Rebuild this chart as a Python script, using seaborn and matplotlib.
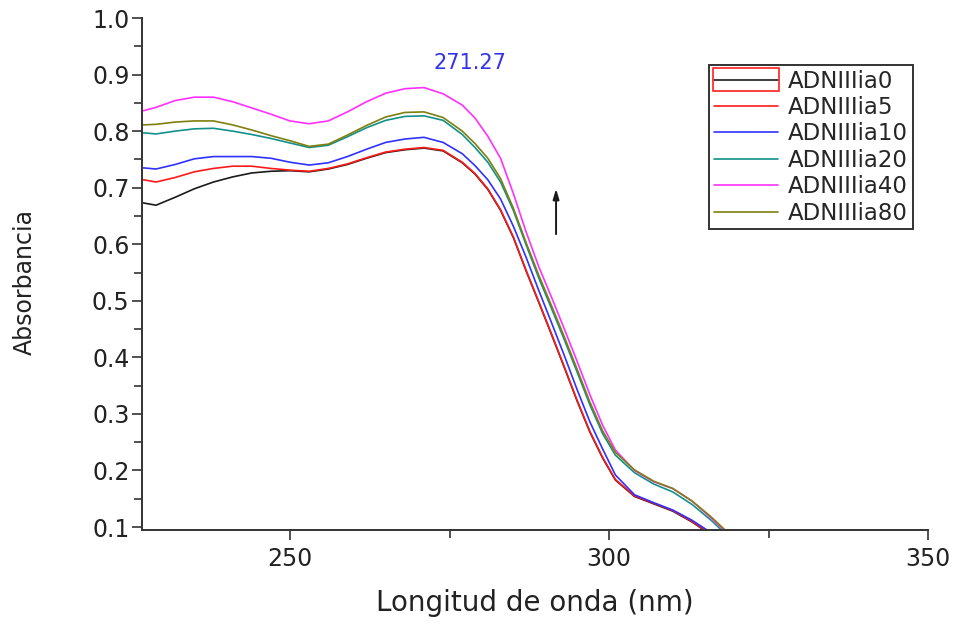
import numpy as np
import pandas as pd
import matplotlib
matplotlib.use("Agg")
import matplotlib.pyplot as plt
import matplotlib.patches as mpatches
from matplotlib.ticker import MultipleLocator, FormatStrFormatter
import seaborn as sns

# ---------------- data ----------------
wavelength = [227, 229, 232, 235, 238, 241, 244, 247, 250, 253, 256, 259, 262, 265,
              268, 271, 274, 277, 279, 281, 283, 285, 287, 289, 291, 293, 295, 297,
              299, 301, 304, 307, 310, 313, 316, 319]

adn0 = [0.673, 0.669, 0.683, 0.698, 0.710, 0.719, 0.726, 0.729, 0.730, 0.728, 0.733,
        0.741, 0.752, 0.762, 0.767, 0.770, 0.765, 0.744, 0.724, 0.697, 0.660, 0.612,
        0.553, 0.497, 0.440, 0.382, 0.323, 0.268, 0.222, 0.183, 0.154, 0.141, 0.128,
        0.109, 0.086, 0.060]
adn5 = [0.714, 0.710, 0.718, 0.728, 0.734, 0.738, 0.738, 0.734, 0.731, 0.729, 0.734,
        0.742, 0.753, 0.763, 0.768, 0.771, 0.766, 0.745, 0.725, 0.698, 0.661, 0.613,
        0.554, 0.498, 0.441, 0.383, 0.324, 0.269, 0.223, 0.184, 0.155, 0.142, 0.129,
        0.110, 0.087, 0.061]
adn10 = [0.735, 0.733, 0.741, 0.751, 0.755, 0.755, 0.755, 0.752, 0.745, 0.740, 0.744,
         0.755, 0.768, 0.780, 0.786, 0.789, 0.780, 0.760, 0.739, 0.714, 0.680, 0.632,
         0.577, 0.518, 0.461, 0.403, 0.343, 0.286, 0.238, 0.192, 0.157, 0.143, 0.130,
         0.112, 0.090, 0.065]
adn20 = [0.797, 0.795, 0.800, 0.804, 0.805, 0.800, 0.794, 0.787, 0.779, 0.771, 0.775,
         0.790, 0.806, 0.819, 0.826, 0.827, 0.819, 0.794, 0.771, 0.745, 0.710, 0.660,
         0.599, 0.540, 0.486, 0.431, 0.374, 0.316, 0.265, 0.227, 0.196, 0.176, 0.162,
         0.140, 0.112, 0.080]
adn40 = [0.836, 0.842, 0.854, 0.860, 0.860, 0.852, 0.841, 0.830, 0.818, 0.813, 0.818,
         0.834, 0.852, 0.867, 0.875, 0.877, 0.866, 0.846, 0.823, 0.791, 0.752, 0.690,
         0.622, 0.560, 0.506, 0.450, 0.393, 0.334, 0.280, 0.236, 0.200, 0.180, 0.168,
         0.146, 0.116, 0.084]
adn80 = [0.811, 0.812, 0.816, 0.818, 0.818, 0.811, 0.802, 0.792, 0.783, 0.773, 0.777,
         0.793, 0.810, 0.825, 0.833, 0.834, 0.824, 0.800, 0.778, 0.752, 0.716, 0.664,
         0.603, 0.545, 0.491, 0.436, 0.379, 0.321, 0.270, 0.232, 0.201, 0.181, 0.168,
         0.146, 0.118, 0.086]

series_names = ["ADNIIIia0", "ADNIIIia5", "ADNIIIia10", "ADNIIIia20", "ADNIIIia40", "ADNIIIia80"]
series_values = [adn0, adn5, adn10, adn20, adn40, adn80]
colors = ["#1a1a1a", "#ff1a1a", "#3030ff", "#12908a", "#ff30ff", "#7f7f10"]

peak_label = "271.27"
x_ticks = [250, 300, 350]
y_ticks = [0.1, 0.2, 0.3, 0.4, 0.5, 0.6, 0.7, 0.8, 0.9, 1.0]

# ---------------- build long-form table ----------------
frames = []
for name, vals in zip(series_names, series_values):
    frames.append(pd.DataFrame({"Longitud": wavelength, "Absorbancia": vals, "Serie": name}))
df = pd.concat(frames, ignore_index=True)

sns.set_style("ticks")
plt.rcParams["font.family"] = ["DejaVu Sans"]

fig = plt.figure(figsize=(9.56, 6.25), dpi=100)
ax = fig.add_axes([142 / 956, 1 - 530 / 625, (928 - 142) / 956, (530 - 18) / 625])

sns.lineplot(data=df, x="Longitud", y="Absorbancia", hue="Serie",
             hue_order=series_names, palette=colors, sort=False,
             estimator=None, linewidth=1.2, legend=False, ax=ax)

ax.set_xlim(226.8, 350)
ax.set_ylim(0.0947, 1.0)
ax.set_xticks(x_ticks)
ax.set_yticks(y_ticks)
ax.xaxis.set_minor_locator(MultipleLocator(25))
ax.yaxis.set_minor_locator(MultipleLocator(0.05))
ax.yaxis.set_major_formatter(FormatStrFormatter("%.1f"))

for s in ["top", "right"]:
    ax.spines[s].set_visible(False)
for s in ["left", "bottom"]:
    ax.spines[s].set_color("#333333")
    ax.spines[s].set_linewidth(1.4)

ax.tick_params(axis="both", which="major", direction="out", length=7, width=1.2,
               color="#333333", labelsize=17, labelcolor="#222222")
ax.tick_params(axis="both", which="minor", direction="out", length=6, width=1.2,
               color="#333333")
ax.tick_params(axis="y", which="major", pad=2)
ax.tick_params(axis="x", which="major", pad=5)

ax.set_xlabel("Longitud de onda (nm)", fontsize=20, color="#222222", labelpad=13)
ax.set_ylabel("Absorbancia", fontsize=17, color="#222222")
ax.yaxis.set_label_coords(-0.1336, 0.484)

# peak annotation
ax.text(278.2, 0.92, peak_label, color="#3333ee", fontsize=15, ha="center", va="center")

# arrow
ax.annotate("", xy=(291.7, 0.703), xytext=(291.7, 0.613),
            arrowprops=dict(arrowstyle="-|>,head_length=0.6,head_width=0.18",
                            color="#1a1a1a", lw=1.4))

# legend
handles = ax.lines[:len(series_names)]
leg = fig.legend(handles, series_names, loc="upper left",
                 bbox_to_anchor=(709 / 956, 1 - 65 / 625), borderaxespad=0,
                 fontsize=16.5, frameon=True, fancybox=False, shadow=False,
                 handlelength=2.8, handletextpad=0.45, labelspacing=0.15,
                 borderpad=0.2, framealpha=1.0)
leg.get_frame().set_edgecolor("#333333")
leg.get_frame().set_linewidth(1.4)

# red selection box around first legend handle
fig.canvas.draw()
h0 = leg.legend_handles[0]
bb = h0.get_window_extent(fig.canvas.get_renderer())
inv = fig.transFigure.inverted()
yc = (bb.y0 + bb.y1) / 2
(x0f, y0f) = inv.transform((bb.x0 - 1, yc - 11.5))
(x1f, y1f) = inv.transform((bb.x1 + 1, yc + 11.5))
rect = mpatches.Rectangle((x0f, y0f), x1f - x0f, y1f - y0f, transform=fig.transFigure,
                          fill=False, edgecolor="#ff2020", linewidth=1.2, zorder=20)
fig.add_artist(rect)

fig.savefig("out.png", dpi=100)
